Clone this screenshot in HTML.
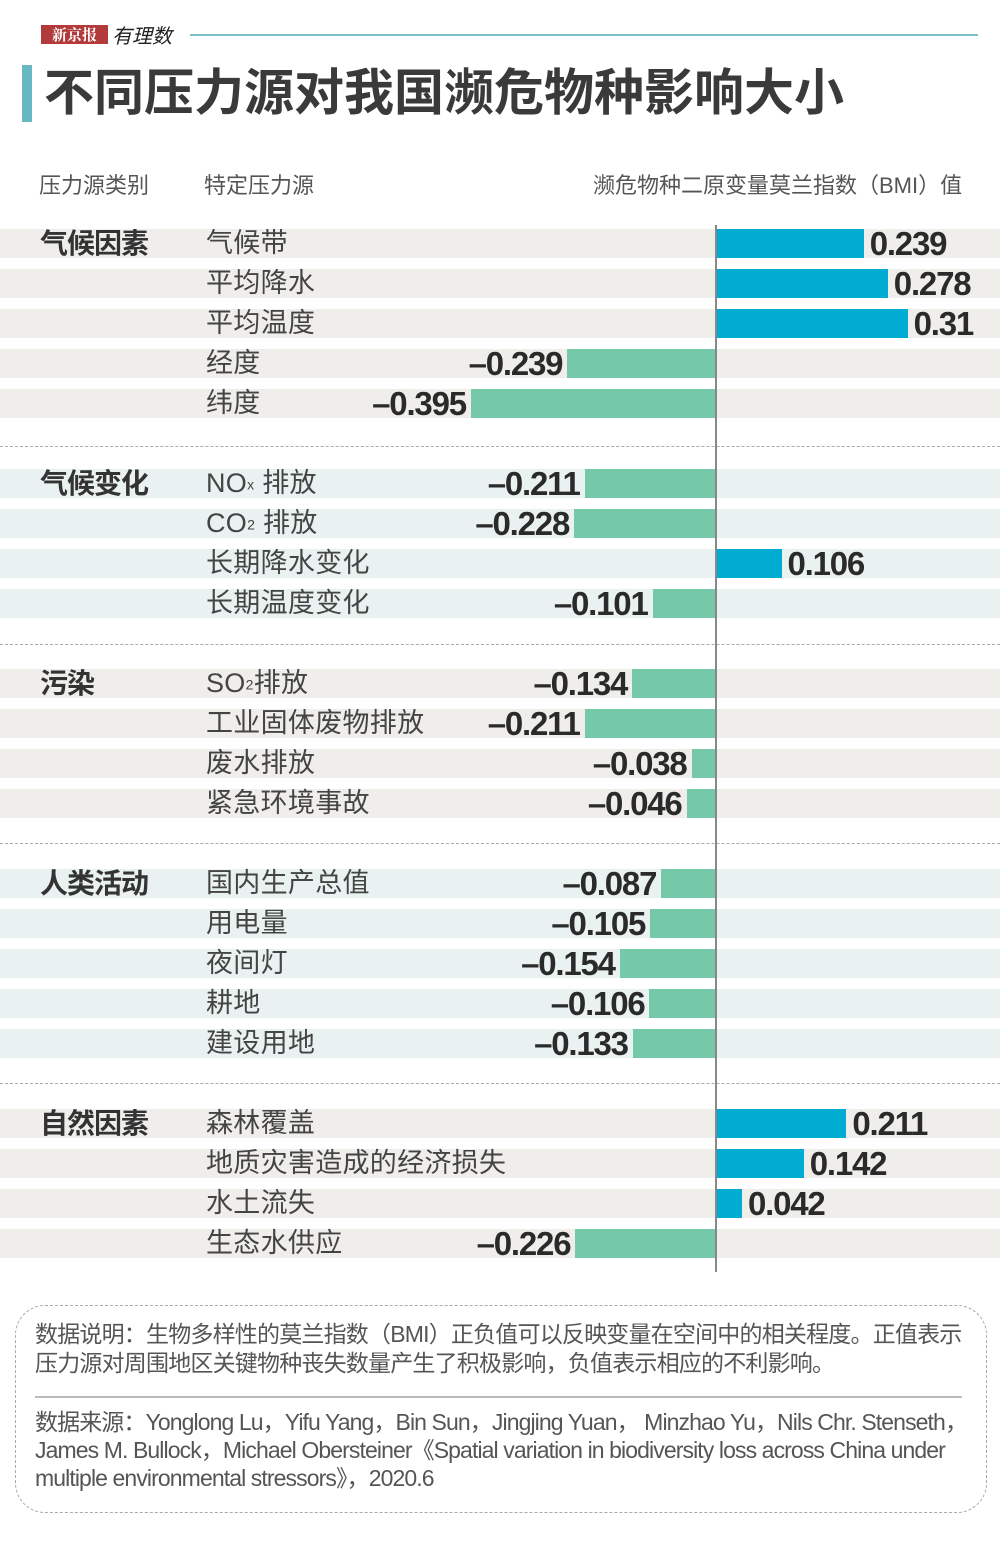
<!DOCTYPE html><html><head><meta charset="utf-8"><style>
body{margin:0;width:1000px;height:1553px;background:#fff;position:relative;font-family:"Liberation Sans","Noto Sans CJK SC",sans-serif;overflow:hidden}
.a{position:absolute;white-space:nowrap}
.row{position:absolute;left:0;width:1000px;height:29px}
.b{background:#f0eeeb}.t{background:#e9f2f1}
.cat{position:absolute;left:40px;font-size:28px;font-weight:bold;color:#333;line-height:29px;letter-spacing:-1px}
.it{position:absolute;left:206px;font-size:27px;color:#444;line-height:29px;letter-spacing:0.3px}
.neg{position:absolute;height:29px;background:#75c9a8}
.pos{position:absolute;height:29px;background:#00acd1;left:716px}
.v{position:absolute;font-size:33px;font-weight:bold;color:#2a2a2a;line-height:29px;letter-spacing:-1.2px}
.dash{position:absolute;left:0;width:1000px;border-top:1.5px dashed #aaa}
sub{font-size:14px;vertical-align:middle}
</style></head><body>
<div class="a" style="left:41px;top:25px;width:67px;height:19px;background:#b33a3a;color:#fff;font:bold 15px 'Noto Serif CJK SC',serif;line-height:19px;text-align:center">新京报</div>
<div class="a" style="left:112px;top:20px;font:italic 20px 'Noto Sans CJK SC',sans-serif;color:#222">有理数</div>
<div class="a" style="left:190px;top:34px;width:788px;height:1.5px;background:#7fc0c8"></div>
<div class="a" style="left:22px;top:65px;width:10px;height:57px;background:#66b8c1"></div>
<div class="a" style="left:44px;top:62px;font-size:50px;font-weight:bold;color:#3a3a3a;line-height:62px">不同压力源对我国濒危物种影响大小</div>
<div class="a" style="left:39px;top:168px;font-size:22px;color:#555">压力源类别</div>
<div class="a" style="left:204px;top:168px;font-size:22px;color:#555">特定压力源</div>
<div class="a" style="left:593px;top:168px;font-size:22px;color:#555">濒危物种二原变量莫兰指数（BMI）值</div>
<div id="c"></div>
<div class="a" style="left:715px;top:225px;width:1.5px;height:1047px;background:#888"></div>
<div class="a" style="left:15px;top:1305px;width:970px;height:206px;border:1.5px dashed #aaa;border-radius:30px"></div>
<div class="a" style="left:35px;top:1320px;font-size:23px;color:#555;line-height:29px;letter-spacing:-0.8px">数据说明：生物多样性的莫兰指数（BMI）正负值可以反映变量在空间中的相关程度。正值表示<br>压力源对周围地区关键物种丧失数量产生了积极影响，负值表示相应的不利影响。</div>
<div class="a" style="left:35px;top:1396px;width:927px;height:1.5px;background:#bbb"></div>
<div class="a" style="left:35px;top:1408px;font-size:23px;color:#555;line-height:28px;letter-spacing:-0.9px">数据来源：Yonglong Lu，Yifu Yang，Bin Sun，Jingjing Yuan， Minzhao Yu，Nils Chr. Stenseth，<br>James M. Bullock，Michael Obersteiner《Spatial variation in biodiversity loss across China under<br>multiple environmental stressors》，2020.6</div>
<script>
var g=[["气候因素","b",229,[["气候带",.239],["平均降水",.278],["平均温度",.31],["经度",-.239],["纬度",-.395]]],
["气候变化","t",469,[["NO<sub>x</sub> 排放",-.211],["CO<sub>2</sub> 排放",-.228],["长期降水变化",.106],["长期温度变化",-.101]]],
["污染","b",669,[["SO<sub>2</sub>排放",-.134],["工业固体废物排放",-.211],["废水排放",-.038],["紧急环境事故",-.046]]],
["人类活动","t",869,[["国内生产总值",-.087],["用电量",-.105],["夜间灯",-.154],["耕地",-.106],["建设用地",-.133]]],
["自然因素","b",1109,[["森林覆盖",.211],["地质灾害造成的经济损失",.142],["水土流失",.042],["生态水供应",-.226]]]];
var h="",s=618;
g.forEach(function(q,gi){q[3].forEach(function(r,i){var y=q[2]+i*40;h+='<div class="row '+q[1]+'" style="top:'+y+'px">';
if(i==0)h+='<div class="cat">'+q[0]+'</div>';
h+='<div class="it">'+r[0]+'</div>';var w=Math.abs(r[1])*s,t=String(Math.abs(r[1]));
if(r[1]<0){h+='<div class="neg" style="left:'+(715-w)+'px;width:'+w+'px"></div><div class="v" style="right:'+(1000-715+w+5)+'px">–'+t+'</div>';}
else{h+='<div class="pos" style="width:'+w+'px"></div><div class="v" style="left:'+(716+w+6)+'px">'+t+'</div>';}
h+='</div>';});
if(gi<4){var yy=[446,644,843,1083][gi];h+='<div class="dash" style="top:'+yy+'px"></div>';}});
document.getElementById("c").innerHTML=h;
</script>
</body></html>
